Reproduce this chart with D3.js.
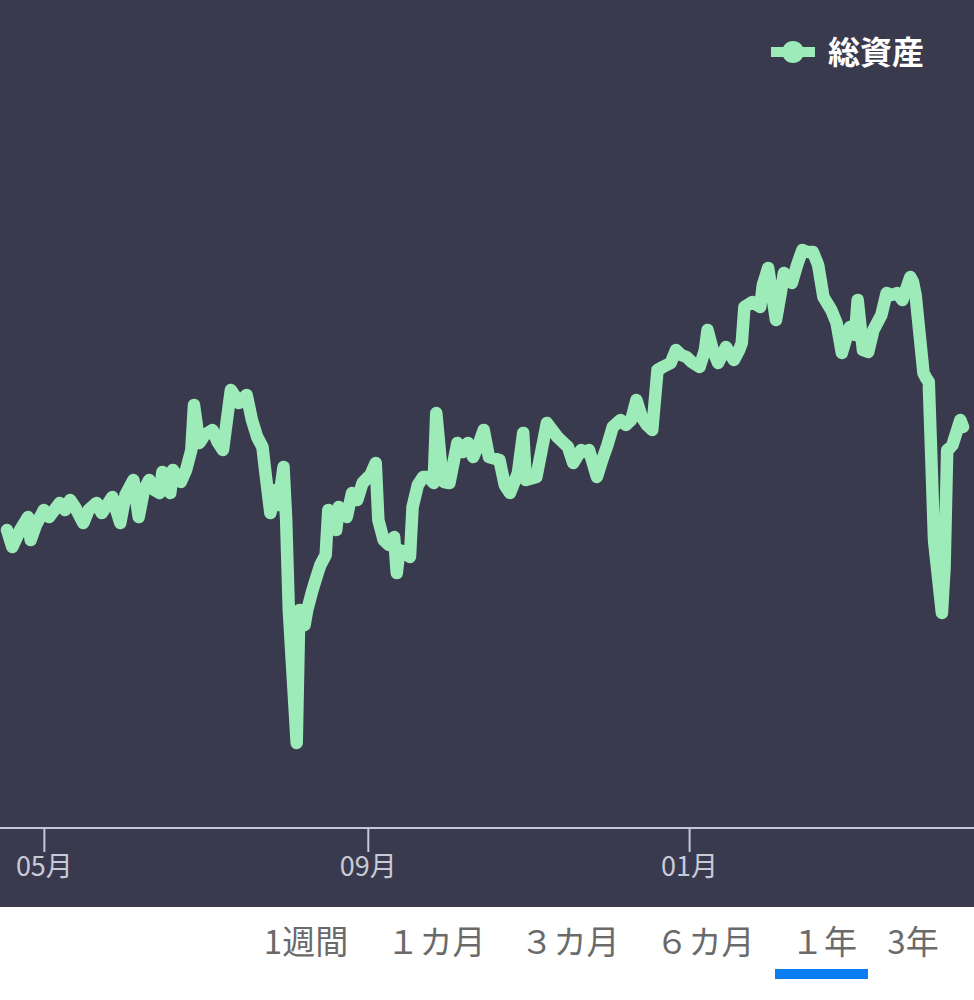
<!DOCTYPE html>
<html>
<head>
<meta charset="utf-8">
<script src="https://cdn.jsdelivr.net/npm/d3@7"></script>
<style>
  html, body { margin: 0; padding: 0; background: #ffffff; }
  svg { display: block; font-family: "Noto Sans CJK JP", "Noto Sans", sans-serif; }
</style>
</head>
<body>
<svg id="chart" width="974" height="1000"></svg>
<script>
// ---- data ----
const seriesName = "総資産";
const dates = [
  "2024-04-17","2024-04-19","2024-04-22","2024-04-25","2024-04-26","2024-04-28",
  "2024-05-01","2024-05-03","2024-05-07","2024-05-09","2024-05-11","2024-05-13","2024-05-16","2024-05-18",
  "2024-05-21","2024-05-23","2024-05-27","2024-05-30",
  "2024-06-01","2024-06-04","2024-06-06","2024-06-08","2024-06-10","2024-06-12","2024-06-14","2024-06-15",
  "2024-06-18","2024-06-19","2024-06-22","2024-06-24","2024-06-26","2024-06-27","2024-06-29",
  "2024-07-01","2024-07-04","2024-07-06","2024-07-08","2024-07-09","2024-07-11","2024-07-13","2024-07-14",
  "2024-07-17","2024-07-19","2024-07-21","2024-07-23","2024-07-24","2024-07-26","2024-07-28","2024-07-29","2024-07-31",
  "2024-08-01","2024-08-02","2024-08-05","2024-08-06","2024-08-08","2024-08-09","2024-08-11","2024-08-13",
  "2024-08-14","2024-08-16","2024-08-17","2024-08-20","2024-08-21","2024-08-24","2024-08-26","2024-08-28","2024-08-30",
  "2024-09-02","2024-09-04","2024-09-05","2024-09-07","2024-09-09","2024-09-11","2024-09-12","2024-09-13",
  "2024-09-15","2024-09-17","2024-09-18","2024-09-20","2024-09-22","2024-09-24","2024-09-26","2024-09-27",
  "2024-09-29","2024-09-30",
  "2024-10-02","2024-10-05","2024-10-07","2024-10-09","2024-10-11","2024-10-13","2024-10-15","2024-10-17",
  "2024-10-21","2024-10-23","2024-10-25","2024-10-28","2024-10-30","2024-10-31",
  "2024-11-04","2024-11-06","2024-11-08","2024-11-10","2024-11-12","2024-11-14","2024-11-16","2024-11-18",
  "2024-11-21","2024-11-22","2024-11-24","2024-11-27","2024-11-29",
  "2024-12-01","2024-12-03","2024-12-06","2024-12-08","2024-12-10","2024-12-12","2024-12-14","2024-12-16",
  "2024-12-18","2024-12-20","2024-12-22","2024-12-25","2024-12-27","2024-12-29","2024-12-31",
  "2025-01-02","2025-01-05","2025-01-07","2025-01-08","2025-01-10","2025-01-12","2025-01-15","2025-01-18",
  "2025-01-20","2025-01-21","2025-01-22","2025-01-25","2025-01-28","2025-01-29","2025-01-31",
  "2025-02-01","2025-02-03","2025-02-05","2025-02-06","2025-02-08","2025-02-09","2025-02-11","2025-02-13",
  "2025-02-15","2025-02-17","2025-02-19","2025-02-21","2025-02-24","2025-02-26","2025-02-28",
  "2025-03-02","2025-03-03","2025-03-05","2025-03-06","2025-03-08","2025-03-10","2025-03-12","2025-03-15",
  "2025-03-17","2025-03-19","2025-03-21","2025-03-23","2025-03-26","2025-03-27","2025-03-28","2025-03-31",
  "2025-04-01","2025-04-02","2025-04-03","2025-04-04","2025-04-07","2025-04-08","2025-04-09","2025-04-10",
  "2025-04-11","2025-04-14","2025-04-15"
];
const values = [
  298,281,298,311,288,303,
  318,311,325,318,328,320,305,318,
  325,315,331,305,
  333,348,311,338,348,338,335,356,
  335,358,346,358,378,423,385,
  393,398,386,378,398,438,430,425,
  433,408,391,381,358,315,338,323,361,
  308,218,85,218,203,218,238,255,
  263,273,318,298,321,311,335,328,345,
  353,365,308,288,283,291,255,278,
  276,271,321,343,351,351,345,415,
  358,346,
  345,385,376,385,371,383,398,371,
  368,343,335,355,395,348,
  351,378,405,398,391,386,381,365,
  378,376,378,351,368,
  383,401,408,403,408,428,411,403,
  398,458,461,465,478,473,471,
  466,461,478,498,478,465,481,468,
  478,485,521,526,521,543,560,
  543,508,538,555,548,545,563,578,
  576,576,563,531,518,505,475,
  493,501,493,528,478,476,498,513,
  535,533,535,528,551,546,533,455,
  450,446,368,288,215,261,378,380,
  383,408,401
];
const tickDates = ["2024-05-01","2024-09-01","2025-01-01"];
const tabLabels = ["1週間","１カ月","３カ月","６カ月","１年","3年"];
const activeTab = "１年";

// ---- chart ----
const W = 974, H = 1000;
const plotBottom = 828, darkBottom = 907;
const parse = d3.timeParse("%Y-%m-%d");
const data = dates.map((d, i) => ({ date: parse(d), value: values[i] }));

const svg = d3.select("#chart");
svg.append("rect").attr("x", 0).attr("y", 0).attr("width", W).attr("height", darkBottom)
  .attr("fill", "#3a3a4e");

const x = d3.scaleTime().domain(d3.extent(data, d => d.date)).range([7, 963]);
const y = d3.scaleLinear().domain([0, 828]).range([plotBottom, 0]);

// axis
const xAxis = d3.axisBottom(x)
  .tickValues(tickDates.map(parse))
  .tickFormat(d3.timeFormat("%m月"))
  .tickSize(24)
  .tickPadding(5);
const gx = svg.append("g").attr("transform", `translate(0,${plotBottom})`).call(xAxis);
gx.select(".domain").remove();
gx.insert("line", ":first-child").attr("x1", 0).attr("x2", W).attr("y1", 0).attr("y2", 0)
  .attr("stroke", "#c3c6dc").attr("stroke-width", 2);
gx.selectAll(".tick line").attr("stroke", "#c3c6dc").attr("stroke-width", 2);
gx.selectAll(".tick text").attr("fill", "#c9cad8").attr("font-size", 27)
  .attr("font-family", "'Noto Sans CJK JP', sans-serif");

// line
const line = d3.line().x(d => x(d.date)).y(d => y(d.value)).curve(d3.curveLinear);
svg.append("path").datum(data)
  .attr("d", line)
  .attr("fill", "none")
  .attr("stroke", "#9eebba")
  .attr("stroke-width", 12.5)
  .attr("stroke-linejoin", "round")
  .attr("stroke-linecap", "round");

// legend
const lg = svg.append("g");
lg.append("line").attr("x1", 771).attr("x2", 815).attr("y1", 52).attr("y2", 52)
  .attr("stroke", "#9eebba").attr("stroke-width", 10);
lg.append("circle").attr("cx", 793).attr("cy", 52).attr("r", 11).attr("fill", "#9eebba");
lg.append("text").attr("x", 828).attr("y", 64).attr("fill", "#ffffff")
  .attr("font-size", 32).attr("font-weight", "bold").text(seriesName);

// tabs
const tabCenters = [306, 436, 570, 705, 824, 913];
const tg = svg.append("g");
tg.selectAll("text").data(tabLabels).join("text")
  .attr("x", (d, i) => tabCenters[i])
  .attr("y", 954)
  .attr("text-anchor", "middle")
  .attr("fill", "#6a6a6a")
  .attr("font-size", 33)
  .text(d => d);
const ai = tabLabels.indexOf(activeTab);
tg.append("rect").attr("x", tabCenters[ai] - 49).attr("y", 969).attr("width", 93).attr("height", 10)
  .attr("fill", "#0a7ef0");
</script>
</body>
</html>
